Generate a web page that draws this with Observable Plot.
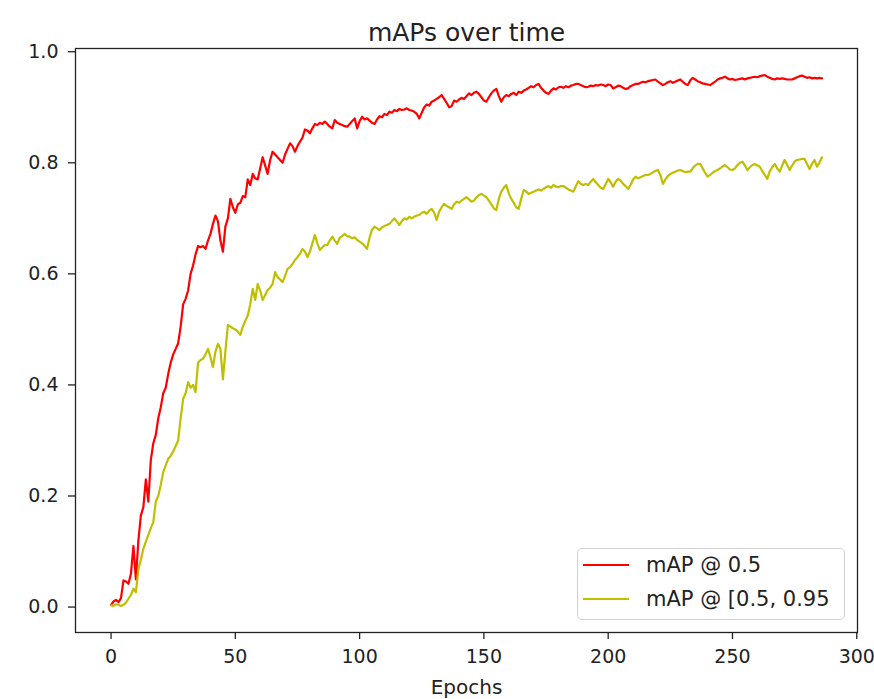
<!DOCTYPE html>
<html>
<head>
<meta charset="utf-8">
<script src="https://cdn.jsdelivr.net/npm/d3@7"></script>
<script src="https://cdn.jsdelivr.net/npm/@observablehq/plot@0.6"></script>
<style>
  html, body { margin: 0; padding: 0; background: #fff; }
  #wrap { position: relative; width: 874px; height: 699px; font-family: "DejaVu Sans", sans-serif; }
  #legend { position: absolute; left: 577px; top: 548px; width: 268px; height: 72px;
    box-sizing: border-box; border: 1.3px solid #d0d0d0; border-radius: 5px; background: rgba(255,255,255,0.8); }
  #legend .row { position: absolute; left: 5px; height: 24px; display: flex; align-items: center; }
  #legend .swatch { width: 46px; height: 2.4px; margin-right: 17px; }
  #legend .lab { font-size: 21px; color: #222; white-space: nowrap; }
</style>
</head>
<body>
<div id="wrap"><div id="legend"></div></div>
<script>
const title = "mAPs over time";
const xLabel = "Epochs";
const seriesNames = ["mAP @ 0.5", "mAP @ [0.5, 0.95"];
const seriesColors = ["#ff0000", "#bfbf00"];
const xTicks = [0, 50, 100, 150, 200, 250, 300];
const yTicks = [0.0, 0.2, 0.4, 0.6, 0.8, 1.0];

const map50 = [
  0.004, 0.010, 0.013, 0.009, 0.016, 0.048, 0.046, 0.042, 0.060, 0.110,
  0.050, 0.120, 0.165, 0.180, 0.230, 0.190, 0.265, 0.295, 0.310, 0.340,
  0.360, 0.385, 0.395, 0.420, 0.440, 0.455, 0.465, 0.475, 0.505, 0.545,
  0.555, 0.570, 0.600, 0.615, 0.635, 0.650, 0.648, 0.650, 0.645, 0.660,
  0.672, 0.690, 0.705, 0.695, 0.660, 0.640, 0.685, 0.700, 0.735, 0.720,
  0.710, 0.725, 0.728, 0.740, 0.738, 0.770, 0.760, 0.780, 0.772, 0.770,
  0.790, 0.810, 0.795, 0.780, 0.805, 0.820, 0.815, 0.810, 0.805, 0.800,
  0.815, 0.825, 0.835, 0.830, 0.820, 0.830, 0.838, 0.845, 0.860, 0.858,
  0.853, 0.862, 0.870, 0.868, 0.872, 0.870, 0.874, 0.870, 0.865, 0.862,
  0.877, 0.872, 0.870, 0.868, 0.866, 0.865, 0.870, 0.875, 0.880, 0.862,
  0.875, 0.883, 0.878, 0.880, 0.876, 0.872, 0.870, 0.878, 0.884, 0.882,
  0.888, 0.886, 0.892, 0.890, 0.895, 0.893, 0.897, 0.895, 0.896, 0.898,
  0.895, 0.894, 0.892, 0.888, 0.880, 0.890, 0.900, 0.905, 0.903, 0.910,
  0.912, 0.915, 0.918, 0.922, 0.915, 0.908, 0.900, 0.902, 0.912, 0.910,
  0.914, 0.917, 0.915, 0.920, 0.925, 0.922, 0.926, 0.928, 0.924, 0.918,
  0.912, 0.910, 0.918, 0.925, 0.930, 0.933, 0.920, 0.910, 0.918, 0.922,
  0.920, 0.924, 0.926, 0.922, 0.928, 0.926, 0.930, 0.932, 0.935, 0.938,
  0.936, 0.940, 0.942, 0.935, 0.930, 0.926, 0.924, 0.930, 0.934, 0.932,
  0.936, 0.937, 0.935, 0.938, 0.936, 0.939, 0.940, 0.942, 0.942, 0.940,
  0.938, 0.936, 0.937, 0.939, 0.938, 0.940, 0.939, 0.941, 0.940, 0.938,
  0.941, 0.940, 0.934, 0.936, 0.939, 0.938, 0.935, 0.933, 0.934, 0.938,
  0.940, 0.942, 0.942, 0.944, 0.946, 0.945, 0.947, 0.948, 0.949, 0.950,
  0.946, 0.943, 0.940, 0.942, 0.945, 0.947, 0.944, 0.946, 0.948, 0.950,
  0.946, 0.942, 0.940, 0.948, 0.953, 0.950, 0.947, 0.945, 0.943, 0.942,
  0.941, 0.940, 0.943, 0.946, 0.950, 0.952, 0.953, 0.955, 0.952, 0.950,
  0.951, 0.949, 0.950, 0.951, 0.952, 0.950, 0.952, 0.953, 0.954, 0.955,
  0.954, 0.956, 0.957, 0.958, 0.955, 0.953, 0.951, 0.950, 0.952, 0.951,
  0.952, 0.951, 0.950, 0.950, 0.950, 0.952, 0.954, 0.956, 0.957, 0.955,
  0.953, 0.954, 0.952, 0.953, 0.952, 0.953, 0.952
];

const map5095 = [
  0.003, 0.002, 0.005, 0.004, 0.002, 0.004, 0.008, 0.015, 0.022, 0.033,
  0.027, 0.068, 0.085, 0.105, 0.118, 0.130, 0.142, 0.153, 0.190, 0.200,
  0.220, 0.243, 0.255, 0.267, 0.272, 0.280, 0.290, 0.300, 0.340, 0.375,
  0.385, 0.405, 0.395, 0.400, 0.387, 0.440, 0.445, 0.447, 0.455, 0.465,
  0.450, 0.432, 0.460, 0.474, 0.465, 0.410, 0.460, 0.508, 0.505, 0.502,
  0.500, 0.496, 0.490, 0.505, 0.515, 0.525, 0.545, 0.573, 0.553, 0.582,
  0.570, 0.553, 0.562, 0.571, 0.575, 0.582, 0.603, 0.594, 0.590, 0.585,
  0.596, 0.609, 0.612, 0.618, 0.625, 0.630, 0.636, 0.645, 0.640, 0.630,
  0.640, 0.655, 0.670, 0.655, 0.643, 0.648, 0.652, 0.652, 0.660, 0.667,
  0.660, 0.654, 0.665, 0.668, 0.672, 0.668, 0.667, 0.664, 0.666, 0.661,
  0.658, 0.655, 0.650, 0.645, 0.665, 0.680, 0.685, 0.682, 0.679, 0.684,
  0.686, 0.688, 0.690, 0.695, 0.700, 0.694, 0.688, 0.695, 0.700, 0.698,
  0.703, 0.700, 0.703, 0.705, 0.706, 0.710, 0.712, 0.708, 0.714, 0.717,
  0.710, 0.697, 0.712, 0.720, 0.726, 0.722, 0.720, 0.717, 0.725, 0.730,
  0.728, 0.732, 0.735, 0.738, 0.734, 0.730, 0.732, 0.738, 0.742, 0.744,
  0.741, 0.738, 0.732, 0.725, 0.718, 0.715, 0.735, 0.748, 0.755, 0.760,
  0.745, 0.735, 0.728, 0.720, 0.717, 0.735, 0.751, 0.748, 0.744, 0.746,
  0.748, 0.750, 0.752, 0.750, 0.753, 0.756, 0.758, 0.755, 0.760, 0.757,
  0.756, 0.758, 0.758, 0.755, 0.752, 0.750, 0.748, 0.758, 0.767, 0.762,
  0.760, 0.762, 0.760, 0.766, 0.771, 0.765, 0.760, 0.755, 0.753, 0.762,
  0.771, 0.765, 0.757, 0.766, 0.771, 0.768, 0.762, 0.758, 0.753, 0.760,
  0.770, 0.775, 0.772, 0.774, 0.776, 0.778, 0.778, 0.780, 0.783, 0.785,
  0.787, 0.778, 0.762, 0.770, 0.776, 0.780, 0.782, 0.784, 0.786, 0.787,
  0.785, 0.783, 0.784, 0.784, 0.790, 0.795, 0.798, 0.798, 0.790, 0.782,
  0.775, 0.778, 0.782, 0.785, 0.787, 0.790, 0.793, 0.796, 0.792, 0.788,
  0.787, 0.790, 0.796, 0.800, 0.802, 0.795, 0.787, 0.792, 0.796, 0.798,
  0.795, 0.793, 0.785, 0.778, 0.771, 0.785, 0.792, 0.798, 0.790, 0.784,
  0.795, 0.805, 0.796, 0.787, 0.795, 0.802, 0.805, 0.806, 0.807, 0.807,
  0.798, 0.789, 0.798, 0.805, 0.793, 0.800, 0.810
];

const rows50 = map50.map((v, i) => ({epoch: i, value: v}));
const rows5095 = map5095.map((v, i) => ({epoch: i, value: v}));

const xMax = map50.length - 1;
const xPad = xMax * 0.05;
const allVals = map50.concat(map5095);
const yMin = d3.min(allVals), yMaxV = d3.max(allVals);
const yPad = (yMaxV - yMin) * 0.05;

const chart = Plot.plot({
  width: 874,
  height: 699,
  marginLeft: 75,
  marginRight: 17,
  marginTop: 48,
  marginBottom: 67,
  style: {fontFamily: "DejaVu Sans, sans-serif", fontSize: "19px", color: "#222", background: "#fff", overflow: "visible"},
  x: {domain: [-xPad, xMax + xPad]},
  y: {domain: [yMin - yPad, yMaxV + yPad]},
  marks: [
    Plot.line(rows50, {x: "epoch", y: "value", stroke: seriesColors[0], strokeWidth: 2.2}),
    Plot.line(rows5095, {x: "epoch", y: "value", stroke: seriesColors[1], strokeWidth: 2.2}),
    Plot.frame({stroke: "#222", strokeWidth: 1.3}),
    Plot.axisX({ticks: xTicks, tickSize: 7, tickPadding: 10, label: null, tickFormat: d3.format("d"), fontSize: 19, stroke: "#222", strokeWidth: 1.3}),
    Plot.axisY({ticks: yTicks, tickSize: 7, tickPadding: 10, label: null, tickFormat: d3.format(".1f"), fontSize: 19, stroke: "#222", strokeWidth: 1.3}),
    Plot.text([title], {frameAnchor: "top", dy: -16, lineAnchor: "middle", text: d => d, fontSize: 25, fill: "#222"}),
    Plot.text([xLabel], {frameAnchor: "bottom", dy: 55, lineAnchor: "middle", text: d => d, fontSize: 20, fill: "#222"})
  ]
});
const wrap = document.getElementById("wrap");
wrap.insertBefore(chart, wrap.firstChild);

const legend = document.getElementById("legend");
seriesNames.forEach((name, i) => {
  const row = document.createElement("div");
  row.className = "row";
  row.style.top = (4 + i * 34) + "px";
  const sw = document.createElement("div");
  sw.className = "swatch";
  sw.style.background = seriesColors[i];
  const lab = document.createElement("span");
  lab.className = "lab";
  lab.textContent = name;
  row.appendChild(sw);
  row.appendChild(lab);
  legend.appendChild(row);
});
</script>
</body>
</html>
